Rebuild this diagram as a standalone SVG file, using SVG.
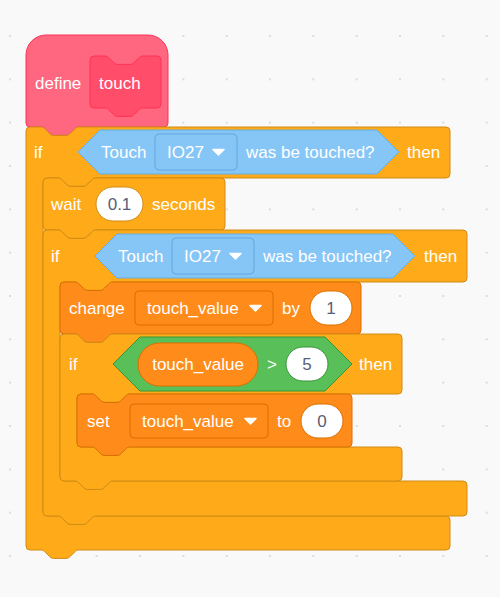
<svg xmlns="http://www.w3.org/2000/svg" xmlns:xlink="http://www.w3.org/1999/xlink" width="500" height="597" viewBox="0 0 500 597">
  <defs>
    <style>
      .ctl{fill:#FFAB19;stroke:#CF8B17;stroke-width:1}
      .var{fill:#FF8C1A;stroke:#DB6E00;stroke-width:1}
      .op{fill:#59C059;stroke:#389438;stroke-width:1}
      .sens{fill:#86C6F7;stroke:#65ADE3;stroke-width:1}
      .sensdd{fill:#86C6F7;stroke:#63A6DA;stroke-width:1}
      .def{fill:#FF6680;stroke:#FF3355;stroke-width:1}
      .proto{fill:#FF4D6A;stroke:#FF3355;stroke-width:1}
      .oval{fill:#FFFFFF;stroke-width:1}
      .oc{stroke:#CF8B17}
      .ov{stroke:#DB6E00}
      .oo{stroke:#389438}
      text{font-family:"Liberation Sans",Arial,Helvetica,sans-serif;font-size:17px;fill:#FFFFFF}
      text.num{fill:#575E75;text-anchor:middle}
      text.mid{text-anchor:middle}
      .caret{fill:#FFFFFF;stroke:#FFFFFF;stroke-width:1.5;stroke-linejoin:round}
    </style>
    <pattern id="grid" x="-11.667" y="14.333" width="43.333" height="43.333" patternUnits="userSpaceOnUse">
      <circle cx="21.667" cy="21.667" r="1" fill="#D2D2D2"/>
    </pattern>
    <path id="caret" class="caret" d="M0,0.5 h11 l-5.5,5.5 z"/>
  </defs>

  <!-- workspace -->
  <rect width="500" height="597" fill="#F9F9F9"/>
  <rect width="500" height="597" fill="url(#grid)"/>

  <!-- define hat -->
  <g id="define-touch">
    <path class="def" d="M26,55 a20,20 0 0 1 20,-20 H148 a20,20 0 0 1 20,20 V123 a4,4 0 0 1 -4,4 H78.8 c-2.1,0 -3.2,1.1 -4.2,2.1 l-4.2,4.2 c-1.1,1.1 -2.1,2.1 -4.2,2.1 h-12.6 c-2.1,0 -3.2,-1.1 -4.2,-2.1 l-4.2,-4.2 c-1.1,-1.1 -2.1,-2.1 -4.2,-2.1 H30 a4,4 0 0 1 -4,-4 Z"/>
    <path class="proto" d="M90,60 a4,4 0 0 1 4,-4 H105 c2.1,0 3.2,1.1 4.2,2.1 l4.2,4.2 c1.1,1.1 2.1,2.1 4.2,2.1 h12.6 c2.1,0 3.2,-1.1 4.2,-2.1 l4.2,-4.2 c1.1,-1.1 2.1,-2.1 4.2,-2.1 H157 a4,4 0 0 1 4,4 V104 a4,4 0 0 1 -4,4 H142.8 c-2.1,0 -3.2,1.1 -4.2,2.1 l-4.2,4.2 c-1.1,1.1 -2.1,2.1 -4.2,2.1 h-12.6 c-2.1,0 -3.2,-1.1 -4.2,-2.1 l-4.2,-4.2 c-1.1,-1.1 -2.1,-2.1 -4.2,-2.1 H94 a4,4 0 0 1 -4,-4 Z"/>
    <text x="35" y="89">define</text>
    <text x="99" y="89">touch</text>
  </g>

  <!-- outer if -->
  <g id="if-outer">
    <path class="ctl" d="M26,131 a4,4 0 0 1 4,-4 H41 c2.1,0 3.2,1.1 4.2,2.1 l4.2,4.2 c1.1,1.1 2.1,2.1 4.2,2.1 h12.6 c2.1,0 3.2,-1.1 4.2,-2.1 l4.2,-4.2 c1.1,-1.1 2.1,-2.1 4.2,-2.1 H446 a4,4 0 0 1 4,4 V174 a4,4 0 0 1 -4,4 H95.8 c-2.1,0 -3.2,1.1 -4.2,2.1 l-4.2,4.2 c-1.1,1.1 -2.1,2.1 -4.2,2.1 h-12.6 c-2.1,0 -3.2,-1.1 -4.2,-2.1 l-4.2,-4.2 c-1.1,-1.1 -2.1,-2.1 -4.2,-2.1 H47 a4,4 0 0 0 -4,4 V512 a4,4 0 0 0 4,4 H58 c2.1,0 3.2,1.1 4.2,2.1 l4.2,4.2 c1.1,1.1 2.1,2.1 4.2,2.1 h12.6 c2.1,0 3.2,-1.1 4.2,-2.1 l4.2,-4.2 c1.1,-1.1 2.1,-2.1 4.2,-2.1 H446 a4,4 0 0 1 4,4 V546 a4,4 0 0 1 -4,4 H78.8 c-2.1,0 -3.2,1.1 -4.2,2.1 l-4.2,4.2 c-1.1,1.1 -2.1,2.1 -4.2,2.1 h-12.6 c-2.1,0 -3.2,-1.1 -4.2,-2.1 l-4.2,-4.2 c-1.1,-1.1 -2.1,-2.1 -4.2,-2.1 H30 a4,4 0 0 1 -4,-4 Z"/>
    <text x="34" y="158">if</text>
    <path class="sens" d="M78,152 L100,130 H377 L399,152 L377,174 H100 Z"/>
    <text x="101" y="158">Touch</text>
    <rect class="sensdd" x="155" y="134" width="82" height="36" rx="4"/>
    <text x="167" y="158">IO27</text>
    <use xlink:href="#caret" x="213" y="149"/>
    <text x="246" y="158">was be touched?</text>
    <text x="407" y="158">then</text>
  </g>

  <!-- wait -->
  <g id="wait">
    <path class="ctl" d="M43,182 a4,4 0 0 1 4,-4 H58 c2.1,0 3.2,1.1 4.2,2.1 l4.2,4.2 c1.1,1.1 2.1,2.1 4.2,2.1 h12.6 c2.1,0 3.2,-1.1 4.2,-2.1 l4.2,-4.2 c1.1,-1.1 2.1,-2.1 4.2,-2.1 H221 a4,4 0 0 1 4,4 V226 a4,4 0 0 1 -4,4 H95.8 c-2.1,0 -3.2,1.1 -4.2,2.1 l-4.2,4.2 c-1.1,1.1 -2.1,2.1 -4.2,2.1 h-12.6 c-2.1,0 -3.2,-1.1 -4.2,-2.1 l-4.2,-4.2 c-1.1,-1.1 -2.1,-2.1 -4.2,-2.1 H47 a4,4 0 0 1 -4,-4 Z"/>
    <text x="51" y="210">wait</text>
    <rect class="oval oc" x="96" y="187" width="47" height="34" rx="17"/>
    <text class="num" x="119.5" y="210">0.1</text>
    <text x="152" y="210">seconds</text>
  </g>

  <!-- second if -->
  <g id="if-middle">
    <path class="ctl" d="M43,234 a4,4 0 0 1 4,-4 H58 c2.1,0 3.2,1.1 4.2,2.1 l4.2,4.2 c1.1,1.1 2.1,2.1 4.2,2.1 h12.6 c2.1,0 3.2,-1.1 4.2,-2.1 l4.2,-4.2 c1.1,-1.1 2.1,-2.1 4.2,-2.1 H463 a4,4 0 0 1 4,4 V278 a4,4 0 0 1 -4,4 H112.8 c-2.1,0 -3.2,1.1 -4.2,2.1 l-4.2,4.2 c-1.1,1.1 -2.1,2.1 -4.2,2.1 h-12.6 c-2.1,0 -3.2,-1.1 -4.2,-2.1 l-4.2,-4.2 c-1.1,-1.1 -2.1,-2.1 -4.2,-2.1 H64 a4,4 0 0 0 -4,4 V477 a4,4 0 0 0 4,4 H75 c2.1,0 3.2,1.1 4.2,2.1 l4.2,4.2 c1.1,1.1 2.1,2.1 4.2,2.1 h12.6 c2.1,0 3.2,-1.1 4.2,-2.1 l4.2,-4.2 c1.1,-1.1 2.1,-2.1 4.2,-2.1 H463 a4,4 0 0 1 4,4 V512 a4,4 0 0 1 -4,4 H95.8 c-2.1,0 -3.2,1.1 -4.2,2.1 l-4.2,4.2 c-1.1,1.1 -2.1,2.1 -4.2,2.1 h-12.6 c-2.1,0 -3.2,-1.1 -4.2,-2.1 l-4.2,-4.2 c-1.1,-1.1 -2.1,-2.1 -4.2,-2.1 H47 a4,4 0 0 1 -4,-4 Z"/>
    <text x="51" y="262">if</text>
    <path class="sens" d="M95,256 L117,234 H393 L415,256 L393,278 H117 Z"/>
    <text x="118" y="262">Touch</text>
    <rect class="sensdd" x="172" y="238" width="82" height="36" rx="4"/>
    <text x="184" y="262">IO27</text>
    <use xlink:href="#caret" x="230" y="253"/>
    <text x="263" y="262">was be touched?</text>
    <text x="424" y="262">then</text>
  </g>

  <!-- change variable -->
  <g id="change">
    <path class="var" d="M60,286 a4,4 0 0 1 4,-4 H75 c2.1,0 3.2,1.1 4.2,2.1 l4.2,4.2 c1.1,1.1 2.1,2.1 4.2,2.1 h12.6 c2.1,0 3.2,-1.1 4.2,-2.1 l4.2,-4.2 c1.1,-1.1 2.1,-2.1 4.2,-2.1 H357 a4,4 0 0 1 4,4 V330 a4,4 0 0 1 -4,4 H112.8 c-2.1,0 -3.2,1.1 -4.2,2.1 l-4.2,4.2 c-1.1,1.1 -2.1,2.1 -4.2,2.1 h-12.6 c-2.1,0 -3.2,-1.1 -4.2,-2.1 l-4.2,-4.2 c-1.1,-1.1 -2.1,-2.1 -4.2,-2.1 H64 a4,4 0 0 1 -4,-4 Z"/>
    <text x="69" y="314">change</text>
    <rect class="var" x="135" y="291" width="138" height="34" rx="4"/>
    <text x="147" y="314">touch_value</text>
    <use xlink:href="#caret" x="250" y="305"/>
    <text x="282" y="314">by</text>
    <rect class="oval ov" x="310" y="291" width="42" height="34" rx="17"/>
    <text class="num" x="331" y="314">1</text>
  </g>

  <!-- inner if -->
  <g id="if-inner">
    <path class="ctl" d="M60,338 a4,4 0 0 1 4,-4 H75 c2.1,0 3.2,1.1 4.2,2.1 l4.2,4.2 c1.1,1.1 2.1,2.1 4.2,2.1 h12.6 c2.1,0 3.2,-1.1 4.2,-2.1 l4.2,-4.2 c1.1,-1.1 2.1,-2.1 4.2,-2.1 H398 a4,4 0 0 1 4,4 V390 a4,4 0 0 1 -4,4 H129.8 c-2.1,0 -3.2,1.1 -4.2,2.1 l-4.2,4.2 c-1.1,1.1 -2.1,2.1 -4.2,2.1 h-12.6 c-2.1,0 -3.2,-1.1 -4.2,-2.1 l-4.2,-4.2 c-1.1,-1.1 -2.1,-2.1 -4.2,-2.1 H81 a4,4 0 0 0 -4,4 V443 a4,4 0 0 0 4,4 H92 c2.1,0 3.2,1.1 4.2,2.1 l4.2,4.2 c1.1,1.1 2.1,2.1 4.2,2.1 h12.6 c2.1,0 3.2,-1.1 4.2,-2.1 l4.2,-4.2 c1.1,-1.1 2.1,-2.1 4.2,-2.1 H398 a4,4 0 0 1 4,4 V477 a4,4 0 0 1 -4,4 H112.8 c-2.1,0 -3.2,1.1 -4.2,2.1 l-4.2,4.2 c-1.1,1.1 -2.1,2.1 -4.2,2.1 h-12.6 c-2.1,0 -3.2,-1.1 -4.2,-2.1 l-4.2,-4.2 c-1.1,-1.1 -2.1,-2.1 -4.2,-2.1 H64 a4,4 0 0 1 -4,-4 Z"/>
    <text x="69" y="370">if</text>
    <path class="op" d="M113,364 L140,337 H325 L352,364 L325,391 H140 Z"/>
    <rect class="var" x="138" y="343" width="120" height="43" rx="21.5"/>
    <text class="mid" x="198" y="370">touch_value</text>
    <text x="267" y="370">&gt;</text>
    <rect class="oval oo" x="286" y="347" width="42" height="34" rx="17"/>
    <text class="num" x="307" y="370">5</text>
    <text x="359" y="370">then</text>
  </g>

  <!-- set variable -->
  <g id="set">
    <path class="var" d="M77,398 a4,4 0 0 1 4,-4 H92 c2.1,0 3.2,1.1 4.2,2.1 l4.2,4.2 c1.1,1.1 2.1,2.1 4.2,2.1 h12.6 c2.1,0 3.2,-1.1 4.2,-2.1 l4.2,-4.2 c1.1,-1.1 2.1,-2.1 4.2,-2.1 H348 a4,4 0 0 1 4,4 V443 a4,4 0 0 1 -4,4 H129.8 c-2.1,0 -3.2,1.1 -4.2,2.1 l-4.2,4.2 c-1.1,1.1 -2.1,2.1 -4.2,2.1 h-12.6 c-2.1,0 -3.2,-1.1 -4.2,-2.1 l-4.2,-4.2 c-1.1,-1.1 -2.1,-2.1 -4.2,-2.1 H81 a4,4 0 0 1 -4,-4 Z"/>
    <text x="87" y="427">set</text>
    <rect class="var" x="130" y="404" width="138" height="34" rx="4"/>
    <text x="142" y="427">touch_value</text>
    <use xlink:href="#caret" x="245" y="418"/>
    <text x="277" y="427">to</text>
    <rect class="oval ov" x="301" y="404" width="42" height="34" rx="17"/>
    <text class="num" x="322" y="427">0</text>
  </g>
</svg>
